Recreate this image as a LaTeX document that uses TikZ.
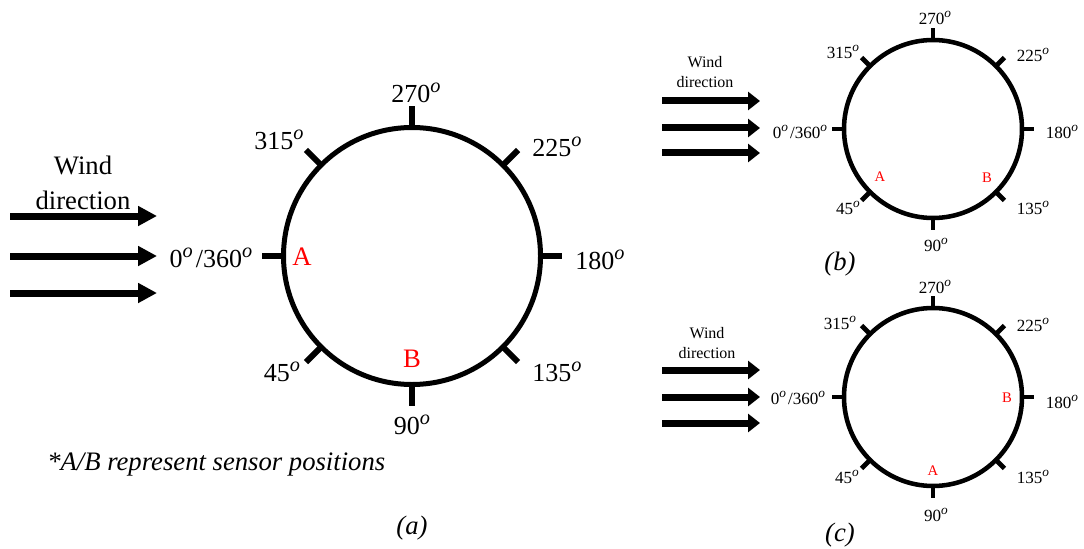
\documentclass[tikz,border=0pt]{standalone}
\usepackage{fontspec}
\usepackage{graphicx}
\setmainfont{Liberation Serif}
\usetikzlibrary{arrows.meta,calc}
% angle label with a raised italic "o" as the degree mark
\newcommand\dgr[1]{#1\raisebox{0.4em}{\scalebox{0.78}{\textit{o}}}}
\newcommand\zerolabel{\dgr{0}\kern0.12em/\dgr{360}}
\begin{document}
\begin{tikzpicture}[x=0.75pt,y=-0.75pt,
  ringA/.style={line width=3.75pt},
  tickA/.style={line width=4.5pt},
  ringS/.style={line width=3.4pt},
  tickS/.style={line width=3.6pt},
  degA/.style={inner sep=0pt,font=\fontsize{19.5}{22}\selectfont},
  degS/.style={inner sep=0pt,font=\fontsize{12.8}{14}\selectfont},
  sensA/.style={inner sep=0pt,text=red,font=\fontsize{20}{24}\selectfont},
  sensS/.style={inner sep=0pt,text=red,font=\fontsize{11}{13}\selectfont},
  windA/.style={inner sep=0pt,align=center,font=\fontsize{20}{26}\selectfont},
  windS/.style={inner sep=0pt,align=center,font=\fontsize{12}{15}\selectfont},
  flowA/.style={line width=5.25pt,-{Triangle[length=14.25pt,width=14.25pt]}},
  flowS/.style={line width=5.25pt,-{Triangle[length=9pt,width=13.5pt]}},
  caption/.style={inner sep=0pt,font=\fontsize{20}{24}\selectfont\itshape}]
\useasboundingbox (0,0) rectangle (1084,549);

% ---------- (a) large dial ----------
\coordinate (ca) at (412,256);
\draw[ringA] (ca) circle[radius=128.5];
\foreach \d in {0,45,...,315}
  \draw[tickA] ($(ca)+({180-\d}:128.5)$) -- ($(ca)+({180-\d}:150)$);

\node[degA] (a270) at (416,93)  {\dgr{270}};
\node[degA] (a315) at (279,140) {\dgr{315}};
\node[degA] (a225) at (557,147) {\dgr{225}};
\node[degA] (a0)   at (211,258) {\zerolabel};
\node[degA] (a180) at (600,260) {\dgr{180}};
\node[degA] (a45)  at (282,372) {\dgr{45}};
\node[degA] (a90)  at (412,425) {\dgr{90}};
\node[degA] (a135) at (557,372) {\dgr{135}};
\node[sensA] (aA) at (302,257) {A};
\node[sensA] (aB) at (412,359) {B};

\node[windA] (awind) at (83,183) {Wind\\direction};
\foreach \y/\n in {216/1,256/2,293/3}{
  \coordinate (as\n) at (10,\y);
  \coordinate (ae\n) at (157,\y);
  \draw[flowA] (as\n) -- (ae\n);
}
\node[caption,anchor=west] (note) at (47,465) {*A/B represent sensor positions};
\node[caption] (capa) at (412,528) {(a)};

% ---------- (b) small dial ----------
\coordinate (cb) at (933,129);
\draw[ringS] (cb) circle[radius=89];
\foreach \d in {0,45,...,315}
  \draw[tickS] ($(cb)+({180-\d}:89)$) -- ($(cb)+({180-\d}:101)$);

\node[degS] (b270) at (935,18)  {\dgr{270}};
\node[degS] (b315) at (843,52)  {\dgr{315}};
\node[degS] (b225) at (1033,55) {\dgr{225}};
\node[degS] (b0)   at (800,132) {\zerolabel};
\node[degS] (b180) at (1062,132){\dgr{180}};
\node[degS] (b45)  at (848,208) {\dgr{45}};
\node[degS] (b90)  at (936,245) {\dgr{90}};
\node[degS] (b135) at (1033,208){\dgr{135}};
\node[sensS] (bA) at (880,177) {A};
\node[sensS] (bB) at (987,178) {B};

\node[windS] (bwind) at (705,72) {Wind\\direction};
\foreach \y/\n in {101/1,128/2,153/3}{
  \coordinate (bs\n) at (662,\y);
  \coordinate (be\n) at (760,\y);
  \draw[flowS] (bs\n) -- (be\n);
}
\node[caption] (capb) at (840,264) {(b)};

% ---------- (c) small dial ----------
\coordinate (cc) at (933,397);
\draw[ringS] (cc) circle[radius=89];
\foreach \d in {0,45,...,315}
  \draw[tickS] ($(cc)+({180-\d}:89)$) -- ($(cc)+({180-\d}:101)$);

\node[degS] (c270) at (935,287) {\dgr{270}};
\node[degS] (c315) at (840,323) {\dgr{315}};
\node[degS] (c225) at (1033,325){\dgr{225}};
\node[degS] (c0)   at (798,398) {\zerolabel};
\node[degS] (c180) at (1062,402){\dgr{180}};
\node[degS] (c45)  at (847,477) {\dgr{45}};
\node[degS] (c90)  at (936,515) {\dgr{90}};
\node[degS] (c135) at (1033,477){\dgr{135}};
\node[sensS] (cB) at (1007,398) {B};
\node[sensS] (cA) at (933,471) {A};

\node[windS] (cwind) at (707,343) {Wind\\direction};
\foreach \y/\n in {370/1,397/2,423/3}{
  \coordinate (cs\n) at (662,\y);
  \coordinate (ce\n) at (760,\y);
  \draw[flowS] (cs\n) -- (ce\n);
}
\node[caption] (capc) at (840,535) {(c)};
\end{tikzpicture}
\end{document}
